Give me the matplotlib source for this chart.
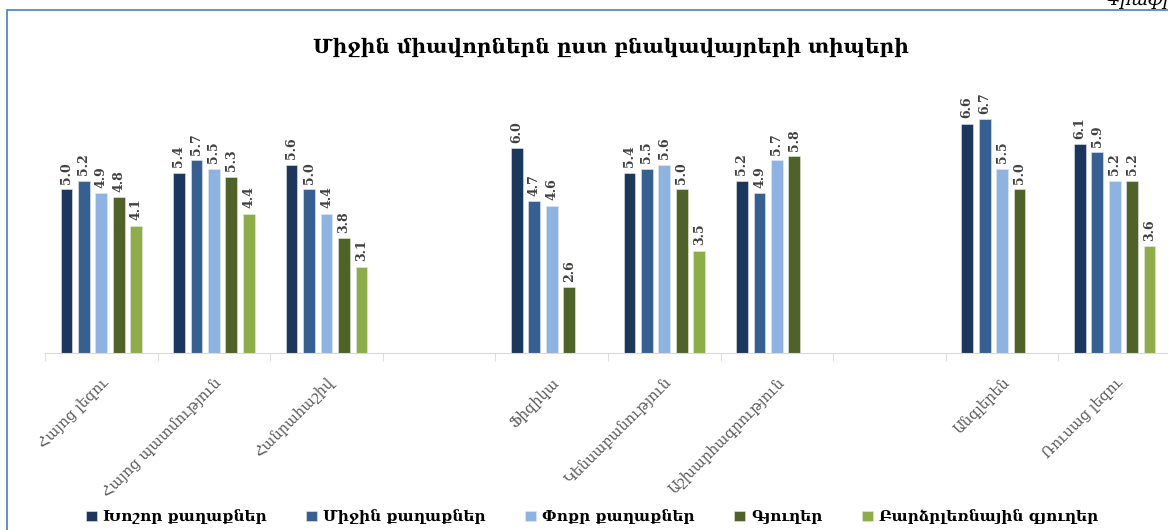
import numpy as np
import matplotlib.pyplot as plt
from matplotlib.patches import Rectangle

# categories ('' marks an empty slot between subject groups)
categories = ['Հայոց լեզու', 'Հայոց պատմություն', 'Հանրահաշիվ', '',
              'Ֆիզիկա', 'Կենսաբանություն', 'Աշխարհագրություն', '',
              'Անգլերեն', 'Ռուսաց լեզու']

series_names = ['Խոշոր քաղաքներ', 'Միջին քաղաքներ', 'Փոքր քաղաքներ',
                'Գյուղեր', 'Բարձրլեռնային գյուղեր']

nan = np.nan
large_cities = [5.0, 5.4, 5.6, nan, 6.0, 5.4, 5.2, nan, 6.6, 6.1]
medium_cities = [5.2, 5.7, 5.0, nan, 4.7, 5.5, 4.9, nan, 6.7, 5.9]
small_cities = [4.9, 5.5, 4.4, nan, 4.6, 5.6, 5.7, nan, 5.5, 5.2]
villages = [4.8, 5.3, 3.8, nan, 2.6, 5.0, 5.8, nan, 5.0, 5.2]
mountain_villages = [4.1, 4.4, 3.1, nan, nan, 3.5, nan, nan, nan, 3.6]

colors = ['#1b375e', '#366092', '#8db3e2', '#4f6228', '#8cad48']

serif = ['DejaVu Serif', 'DejaVu Sans']


def main():
    fig = plt.figure(figsize=(11.68, 5.30), dpi=100)
    ax = fig.add_axes([45 / 1168, 0.334, 1126 / 1168, 0.541])

    x = np.arange(len(categories))
    step, width = 0.155, 0.104
    all_series = [large_cities, medium_cities, small_cities, villages, mountain_villages]
    for i, (vals, name, col) in enumerate(zip(all_series, series_names, colors)):
        vals = np.array(vals, dtype=float)
        xs = x + (i - 2) * step
        ax.bar(xs, vals - 1, width, bottom=1, color=col, label=name,
               edgecolor='#e8e8e8', linewidth=0.4)
        for xv, v in zip(xs, vals):
            if np.isnan(v):
                continue
            ax.annotate(f'{v:.1f}', (xv, v), xytext=(0, 4), textcoords='offset points',
                        rotation=90, ha='center', va='bottom', fontsize=9,
                        fontweight='bold', color='#404040', family=serif)

    ax.set_xlim(-0.5, len(categories) - 0.5)
    ax.set_ylim(1, 8)
    for s in ['top', 'right', 'left']:
        ax.spines[s].set_visible(False)
    ax.spines['bottom'].set_color('#d9d9d9')
    ax.yaxis.set_visible(False)

    ax.set_xticks(x)
    ax.set_xticklabels(categories, rotation=45, ha='right', rotation_mode='anchor',
                       fontsize=10.5, color='#595959', family=serif)
    ax.tick_params(axis='x', which='major', length=0, pad=16)
    ax.set_xticks(np.arange(len(categories) + 1) - 0.5, minor=True)
    ax.tick_params(axis='x', which='minor', length=6, color='#d9d9d9')

    # outer chart frame
    fig.patches.append(Rectangle((7 / 1168, -0.1), 1.2, 1 - 10 / 530 + 0.1,
                                 transform=fig.transFigure, fill=False,
                                 edgecolor='#4a7ebb', linewidth=1.2))

    fig.text(611 / 1168, 1 - 47 / 530, 'Միջին միավորներն ըստ բնակավայրերի տիպերի',
             ha='center', va='center', fontsize=14.5, fontweight='bold',
             family=serif, color='#000000')
    fig.text(1185 / 1168, 1.0, 'Գրաֆիկ', ha='right', va='center',
             fontsize=13, style='italic', family=serif, color='#000000')

    fig.legend(loc='center', bbox_to_anchor=(592 / 1168, 1 - 517 / 530), ncol=5,
               frameon=False, handlelength=0.7, handleheight=0.7,
               handletextpad=0.4, columnspacing=2.6,
               prop={'family': serif, 'size': 11, 'weight': 'bold'})

    fig.savefig('out.png', dpi=100)


if __name__ == "__main__":
    main()
